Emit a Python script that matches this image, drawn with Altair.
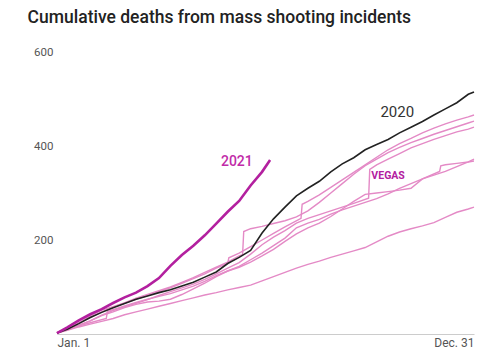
import altair as alt
import pandas as pd

DAYS = [1, 10, 20, 30, 40, 50, 60, 70, 80, 90, 100, 110, 120, 130, 140, 150, 160,
        170, 180, 190, 200, 210, 220, 230, 240, 250, 260, 270, 280, 290, 300, 310,
        320, 330, 340, 350, 360, 365]

Y2014 = [2, 8, 15, 21, 27, 33, 41, 47, 53, 59, 65, 71, 77, 83, 88, 94, 99, 104, 113,
         122, 131, 140, 148, 155, 163, 170, 177, 184, 196, 208, 217, 224, 230, 237,
         248, 259, 266, 270]

Y2015 = [(1, 2), (10, 10), (20, 19), (30, 28), (40, 39), (50, 47), (60, 56), (70, 63),
         (80, 68), (90, 70), (100, 74), (110, 84), (120, 96), (130, 108), (140, 122),
         (150, 134), (160, 142), (170, 153), (180, 166), (190, 180), (200, 197),
         (210, 213), (220, 226), (230, 236), (240, 250), (250, 266), (260, 282),
         (270, 297), (280, 300), (290, 303), (300, 306), (310, 310), (320, 330),
         (335, 346), (336, 358), (340, 360), (350, 363), (360, 366), (365, 368)]

Y2016 = [(1, 3), (10, 12), (20, 24), (30, 38), (40, 51), (50, 58), (60, 66), (70, 76),
         (80, 84), (90, 92), (100, 100), (110, 110), (120, 120), (130, 131), (140, 142),
         (150, 153), (160, 166), (163, 169), (164, 218), (170, 224), (180, 229),
         (190, 235), (200, 241), (210, 249), (220, 262), (230, 280), (240, 300),
         (250, 320), (260, 340), (270, 358), (280, 372), (290, 386), (300, 397),
         (310, 407), (320, 416), (330, 425), (340, 433), (350, 441), (360, 449),
         (365, 453)]

Y2017 = [(1, 2), (10, 9), (20, 18), (30, 28), (40, 40), (50, 50), (60, 58), (70, 65),
         (80, 73), (90, 82), (100, 90), (110, 98), (120, 106), (130, 116), (140, 128),
         (150, 140), (160, 152), (170, 170), (180, 190), (190, 206), (200, 220),
         (210, 236), (220, 246), (230, 254), (240, 262), (250, 270), (260, 278),
         (273, 289), (274, 350), (280, 360), (290, 372), (300, 384), (310, 396),
         (320, 405), (330, 414), (340, 422), (350, 430), (360, 436), (365, 440)]

Y2018 = [(1, 2), (10, 10), (20, 17), (30, 24), (44, 33), (45, 48), (50, 52), (60, 60),
         (70, 67), (80, 74), (90, 80), (100, 86), (110, 94), (120, 102), (130, 112),
         (140, 124), (150, 134), (160, 144), (170, 158), (180, 172), (190, 188),
         (200, 204), (210, 226), (220, 236), (230, 244), (240, 255), (250, 264),
         (260, 272), (270, 280), (280, 288), (290, 298), (300, 310), (310, 320),
         (320, 330), (330, 338), (340, 346), (350, 356), (360, 366), (365, 372)]

Y2019 = [(1, 3), (10, 12), (20, 23), (30, 35), (40, 47), (50, 57), (60, 66), (70, 74),
         (80, 82), (90, 90), (100, 98), (110, 108), (120, 118), (130, 128), (140, 140),
         (150, 150), (151, 162), (160, 172), (170, 186), (180, 200), (190, 214),
         (200, 228), (214, 246), (215, 276), (220, 282), (230, 296), (240, 312),
         (250, 328), (260, 344), (270, 360), (280, 376), (290, 392), (300, 405),
         (310, 416), (320, 428), (330, 438), (340, 447), (350, 455), (360, 462),
         (365, 466)]

Y2020 = [2, 10, 22, 35, 46, 56, 65, 74, 81, 88, 94, 102, 110, 121, 132, 150, 163, 178,
         215, 245, 270, 294, 310, 325, 345, 362, 375, 392, 403, 414, 428, 440, 452,
         466, 479, 492, 510, 515]

DAYS_2021 = [1, 10, 20, 30, 40, 50, 60, 70, 80, 90, 100, 110, 120, 130, 140, 150, 160,
             170, 180, 187]
Y2021 = [2, 14, 29, 42, 53, 66, 78, 88, 102, 119, 145, 168, 188, 210, 235, 260, 283,
         316, 345, 370]

LABELS = [
    {"text": "2020", "day": 298, "deaths": 472, "kind": "2020"},
    {"text": "2021", "day": 158, "deaths": 366, "kind": "2021"},
    {"text": "VEGAS", "day": 290, "deaths": 336, "kind": "vegas"},
]

rows = []
for d, v in zip(DAYS, Y2014):
    rows.append({"year": "2014", "day": d, "deaths": v})
for name, pairs in [("2015", Y2015), ("2016", Y2016), ("2017", Y2017),
                    ("2018", Y2018), ("2019", Y2019)]:
    for d, v in pairs:
        rows.append({"year": name, "day": d, "deaths": v})
past = pd.DataFrame(rows)
y2020 = pd.DataFrame({"day": DAYS, "deaths": Y2020})
y2021 = pd.DataFrame({"day": DAYS_2021, "deaths": Y2021})
labels = pd.DataFrame(LABELS)

FONT = "Roboto"

x = alt.X("day:Q",
          scale=alt.Scale(domain=[1, 365], nice=False, zero=False),
          axis=alt.Axis(values=[1, 365],
                        labelExpr="datum.value == 1 ? 'Jan. 1' : 'Dec. 31'",
                        labelFlush=True, domainColor="#cccccc", domainWidth=1.2,
                        ticks=False, grid=False, title=None, labelFontSize=12,
                        labelColor="#555555", labelPadding=3, labelFont=FONT))
y = alt.Y("deaths:Q",
          scale=alt.Scale(domain=[0, 600], nice=False),
          axis=alt.Axis(values=[200, 400, 600], domain=False, ticks=False,
                        grid=False, title=None, labelFontSize=11.5,
                        labelColor="#555555", labelPadding=4, labelFont=FONT))

pink = alt.Chart(past).mark_line(
    strokeWidth=1.4, color="#e48ac6"
).encode(x=x, y=y, detail="year:N")

black = alt.Chart(y2020).mark_line(
    strokeWidth=1.6, color="#222222"
).encode(x=x, y=y)

mag = alt.Chart(y2021).mark_line(
    strokeWidth=2.6, color="#b3209f"
).encode(x=x, y=y)

t2020 = alt.Chart(labels[labels.kind == "2020"]).mark_text(
    font=FONT, fontSize=15, color="#333333"
).encode(x="day:Q", y="deaths:Q", text="text:N")

t2021 = alt.Chart(labels[labels.kind == "2021"]).mark_text(
    font=FONT, fontSize=14, fontWeight=500, color="#c12ba8"
).encode(x="day:Q", y="deaths:Q", text="text:N")

tveg = alt.Chart(labels[labels.kind == "vegas"]).mark_text(
    font=FONT, fontSize=10.5, fontWeight="bold", color="#b3209f"
).encode(x="day:Q", y="deaths:Q", text="text:N")

chart = alt.layer(pink, black, mag, t2020, t2021, tveg).properties(
    width=417, height=282,
    title=alt.TitleParams("Cumulative deaths from mass shooting incidents",
                          anchor="start", dx=-6, fontSize=17.5, font=FONT,
                          fontWeight=500, color="#222222", offset=20),
    padding={"left": 57, "top": 52, "right": 26, "bottom": 20},
    autosize=alt.AutoSizeParams(type="none"),
).configure_view(stroke=None)

chart.save("out.html", embed_options={"renderer": "svg", "actions": False})
